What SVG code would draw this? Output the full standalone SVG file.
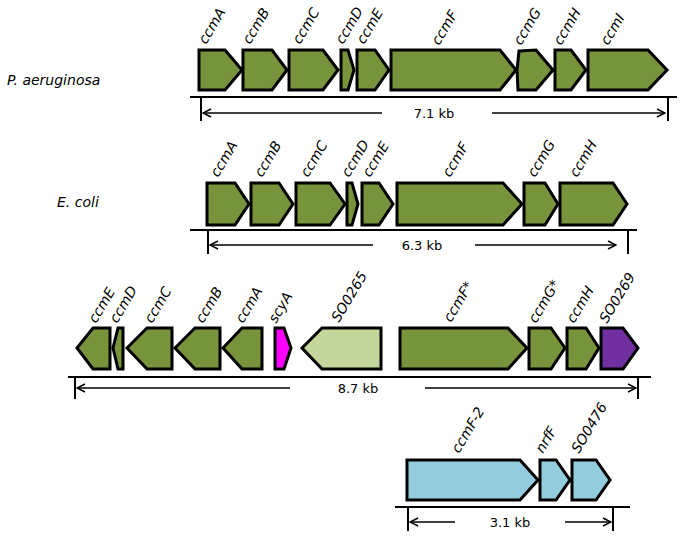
<svg xmlns="http://www.w3.org/2000/svg" width="683" height="538" viewBox="0 0 683 538">
<defs>
<style>
.g{stroke:#000;stroke-width:3;stroke-linejoin:miter}
.olive{fill:#77933C}
.lg{fill:#C3D69B}
.mag{fill:#FF00FF}
.pur{fill:#7030A0}
.blue{fill:#93CDDD}
.lbl{font-family:"DejaVu Sans",Verdana,sans-serif;font-style:italic;font-size:14px;fill:#000}
.sp{font-family:"DejaVu Sans",Verdana,sans-serif;font-style:italic;font-size:14px;fill:#000}
.kb{font-family:"DejaVu Sans",Verdana,sans-serif;font-size:13px;fill:#000;text-anchor:middle}
.ln{stroke:#000;stroke-width:2;fill:none}
.ar{stroke:#000;stroke-width:1.5;fill:none}
</style>
<marker id="ah" viewBox="0 0 10 10" refX="9" refY="5" markerWidth="10" markerHeight="10" markerUnits="userSpaceOnUse" orient="auto-start-reverse">
<path d="M1,1 L9,5 L1,9" fill="none" stroke="#000" stroke-width="1.5"/>
</marker>
</defs>
<rect width="683" height="538" fill="#fff"/>

<text class="sp" x="7" y="85">P. aeruginosa</text>
<text class="sp" x="57" y="207">E. coli</text>

<!-- Row 1 -->
<g id="pa_ccmA"><polygon class="g olive" points="199,50 225,50 242,70 225,90 199,90"/><text class="lbl" transform="translate(206,45) rotate(-59)">ccmA</text></g>
<g id="pa_ccmB"><polygon class="g olive" points="243,50 272,50 287,70 272,90 243,90"/><text class="lbl" transform="translate(250,45) rotate(-59)">ccmB</text></g>
<g id="pa_ccmC"><polygon class="g olive" points="289,50 323,50 338,70 323,90 289,90"/><text class="lbl" transform="translate(300,45) rotate(-59)">ccmC</text></g>
<g id="pa_ccmD"><polygon class="g olive" points="341,50 348,50 354,70 348,90 341,90"/><text class="lbl" transform="translate(343,45) rotate(-59)">ccmD</text></g>
<g id="pa_ccmE"><polygon class="g olive" points="357,50 375,50 389,70 375,90 357,90"/><text class="lbl" transform="translate(364,45) rotate(-59)">ccmE</text></g>
<g id="pa_ccmF"><polygon class="g olive" points="391,50 500,50 516,70 500,90 391,90"/><text class="lbl" transform="translate(439,46) rotate(-59)">ccmF</text></g>
<g id="pa_ccmG"><polygon class="g olive" points="519,51 536,50 553,70 536,90 518,90 517,70"/><text class="lbl" transform="translate(521,46) rotate(-59)">ccmG</text></g>
<g id="pa_ccmH"><polygon class="g olive" points="555,50 571,50 586,70 571,90 555,90"/><text class="lbl" transform="translate(561,46) rotate(-59)">ccmH</text></g>
<g id="pa_ccmI"><polygon class="g olive" points="588,50 648,50 667,70 648,90 588,90"/><text class="lbl" transform="translate(608,46) rotate(-59)">ccmI</text></g>

<!-- Row 2 -->
<g id="ec_ccmA"><polygon class="g olive" points="207,183 235,183 249,204 235,225 207,225"/><text class="lbl" transform="translate(218,178) rotate(-59)">ccmA</text></g>
<g id="ec_ccmB"><polygon class="g olive" points="251,183 279,183 293,204 279,225 251,225"/><text class="lbl" transform="translate(262,178) rotate(-59)">ccmB</text></g>
<g id="ec_ccmC"><polygon class="g olive" points="296,183 330,183 345,204 330,225 296,225"/><text class="lbl" transform="translate(308,178) rotate(-59)">ccmC</text></g>
<g id="ec_ccmD"><polygon class="g olive" points="347,183 352,183 358,204 352,225 347,225"/><text class="lbl" transform="translate(349,178) rotate(-59)">ccmD</text></g>
<g id="ec_ccmE"><polygon class="g olive" points="362,183 379,183 393,204 379,225 362,225"/><text class="lbl" transform="translate(370,178) rotate(-59)">ccmE</text></g>
<g id="ec_ccmF"><polygon class="g olive" points="397,183 503,183 522,204 503,225 397,225"/><text class="lbl" transform="translate(450,178) rotate(-59)">ccmF</text></g>
<g id="ec_ccmG"><polygon class="g olive" points="524,183 545,183 558,204 545,225 524,225"/><text class="lbl" transform="translate(535,178) rotate(-59)">ccmG</text></g>
<g id="ec_ccmH"><polygon class="g olive" points="560,183 613,183 627,204 613,225 560,225"/><text class="lbl" transform="translate(577,178) rotate(-59)">ccmH</text></g>

<!-- Row 3 -->
<g id="so_ccmE"><polygon class="g olive" points="77,348 93,328 110,328 110,369 93,369"/><text class="lbl" transform="translate(96,324) rotate(-59)">ccmE</text></g>
<g id="so_ccmD"><polygon class="g olive" points="113,348 118,328 123,328 123,369 118,369"/><text class="lbl" transform="translate(117,324) rotate(-59)">ccmD</text></g>
<g id="so_ccmC"><polygon class="g olive" points="127,348 147,328 172,328 172,369 147,369"/><text class="lbl" transform="translate(152,324) rotate(-59)">ccmC</text></g>
<g id="so_ccmB"><polygon class="g olive" points="175,348 195,328 220,328 220,369 195,369"/><text class="lbl" transform="translate(203,324) rotate(-59)">ccmB</text></g>
<g id="so_ccmA"><polygon class="g olive" points="223,348 242,328 262,328 262,369 242,369"/><text class="lbl" transform="translate(243,324) rotate(-59)">ccmA</text></g>
<g id="so_scyA"><polygon class="g mag" points="275,328 284,328 291,348 284,369 275,369"/><text class="lbl" transform="translate(276,324) rotate(-59)">scyA</text></g>
<g id="so_SO0265"><polygon class="g lg" points="302,348 322,328 381,328 381,369 322,369"/><text class="lbl" transform="translate(339,323) rotate(-59)">SO0265</text></g>
<g id="so_ccmF"><polygon class="g olive" points="400,328 508,328 527,348 508,369 400,369"/><text class="lbl" transform="translate(451,323) rotate(-59)">ccmF*</text></g>
<g id="so_ccmG"><polygon class="g olive" points="529,328 551,328 565,348 551,369 529,369"/><text class="lbl" transform="translate(536,324) rotate(-59)">ccmG*</text></g>
<g id="so_ccmH"><polygon class="g olive" points="567,328 586,328 599,348 586,369 567,369"/><text class="lbl" transform="translate(574,324) rotate(-59)">ccmH</text></g>
<g id="so_SO0269"><polygon class="g pur" points="601,328 623,328 638,348 623,369 601,369"/><text class="lbl" transform="translate(607,324) rotate(-59)">SO0269</text></g>

<!-- Row 4 -->
<g id="so_ccmF2"><polygon class="g blue" points="407,460 520,460 538,480 520,500 407,500"/><text class="lbl" transform="translate(459,454) rotate(-59)">ccmF-2</text></g>
<g id="so_nrfF"><polygon class="g blue" points="540,460 556,460 570,480 556,500 540,500"/><text class="lbl" transform="translate(543,454) rotate(-59)">nrfF</text></g>
<g id="so_SO0476"><polygon class="g blue" points="572,460 596,460 610,480 596,500 572,500"/><text class="lbl" transform="translate(579,454) rotate(-59)">SO0476</text></g>

<g id="connectors">
<line class="ln" x1="190" y1="97" x2="677" y2="97"/>
<line class="ln" x1="201" y1="97" x2="201" y2="121"/>
<line class="ln" x1="668" y1="97" x2="668" y2="121"/>
<line class="ar" x1="382" y1="113" x2="203" y2="113" marker-end="url(#ah)"/>
<line class="ar" x1="492" y1="113" x2="665" y2="113" marker-end="url(#ah)"/>

<line class="ln" x1="190" y1="230" x2="637" y2="230"/>
<line class="ln" x1="208" y1="230" x2="208" y2="254"/>
<line class="ln" x1="628" y1="230" x2="628" y2="254"/>
<line class="ar" x1="373" y1="245" x2="210" y2="245" marker-end="url(#ah)"/>
<line class="ar" x1="475" y1="245" x2="616" y2="245" marker-end="url(#ah)"/>

<line class="ln" x1="68" y1="377" x2="651" y2="377"/>
<line class="ln" x1="75" y1="377" x2="75" y2="399"/>
<line class="ln" x1="638" y1="377" x2="638" y2="399"/>
<line class="ar" x1="290" y1="388" x2="77" y2="388" marker-end="url(#ah)"/>
<line class="ar" x1="425" y1="388" x2="636" y2="388" marker-end="url(#ah)"/>

<line class="ln" x1="395" y1="507" x2="630" y2="507"/>
<line class="ln" x1="408" y1="507" x2="408" y2="531"/>
<line class="ln" x1="613" y1="507" x2="613" y2="531"/>
<line class="ar" x1="455" y1="522" x2="410" y2="522" marker-end="url(#ah)"/>
<line class="ar" x1="565" y1="522" x2="611" y2="522" marker-end="url(#ah)"/>
</g>

<text class="kb" x="434" y="118">7.1 kb</text>
<text class="kb" x="422" y="250">6.3 kb</text>
<text class="kb" x="358" y="393">8.7 kb</text>
<text class="kb" x="510" y="527">3.1 kb</text>
</svg>
